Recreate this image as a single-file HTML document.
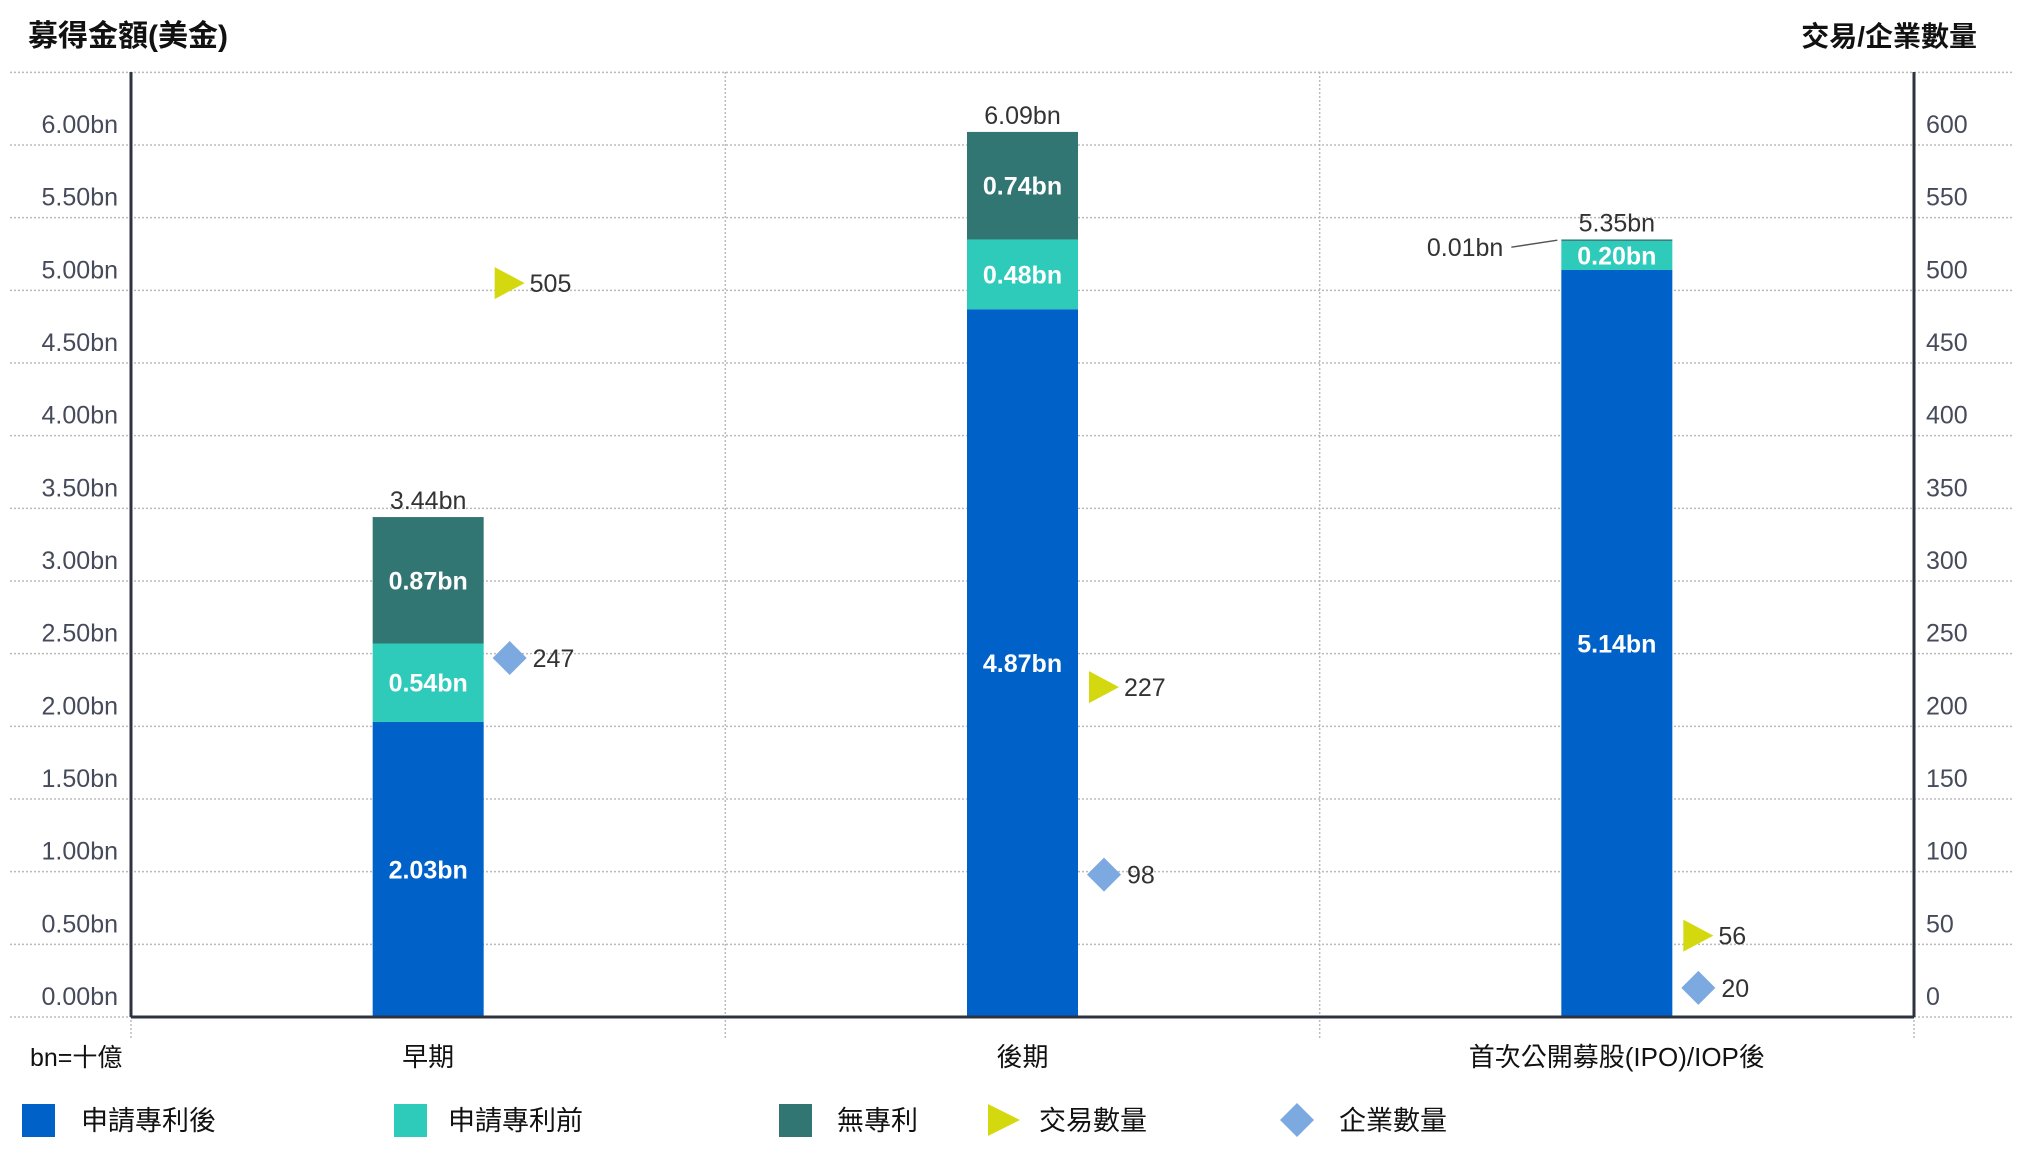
<!DOCTYPE html>
<html><head><meta charset="utf-8">
<style>
html,body{margin:0;padding:0;background:#fff;}
svg{display:block;font-family:"Liberation Sans","Noto Sans CJK TC",sans-serif;}
</style></head>
<body>
<svg id="chart" width="2036" height="1153" viewBox="0 0 2036 1153" xmlns="http://www.w3.org/2000/svg">
<text x="28" y="46" font-size="30" font-weight="bold" fill="#111">募得金額(美金)</text>
<text x="1977" y="46" font-size="28" font-weight="bold" fill="#111" text-anchor="end">交易/企業數量</text>
<g id="grid"></g>
<g id="bars"></g>
<g id="markers"></g>
<g id="axes"></g>
<text x="30" y="1066" font-size="25" fill="#111">bn=十億</text>
<g id="legend"></g>
</svg>
<script>
const categories = ["早期", "後期", "首次公開募股(IPO)/IOP後"];
const afterPatent = [2.03, 4.87, 5.14];
const beforePatent = [0.54, 0.48, 0.20];
const noPatent = [0.87, 0.74, 0.01];
const totals = ["3.44bn", "6.09bn", "5.35bn"];
const deals = [505, 227, 56];
const companies = [247, 98, 20];
const leftTicks = [0, 0.5, 1, 1.5, 2, 2.5, 3, 3.5, 4, 4.5, 5, 5.5, 6, 6.5];
const rightTicks = [0, 50, 100, 150, 200, 250, 300, 350, 400, 450, 500, 550, 600];

const NS = "http://www.w3.org/2000/svg";
const X0 = 131, X1 = 1914, Y0 = 1017;
const yL = v => Y0 - v * (872 / 6);
const yR = n => Y0 - n * (872 / 600);
const band = (X1 - X0) / categories.length;
const xC = i => X0 + band * (i + 0.5);
const BW = 111;
const colors = ["#0061C9", "#2ECBBB", "#317672"];
function mk(tag, attrs, parent) {
  const e = document.createElementNS(NS, tag);
  for (const k in attrs) e.setAttribute(k, attrs[k]);
  parent.appendChild(e);
  return e;
}
const grid = document.getElementById("grid");
const axes = document.getElementById("axes");
leftTicks.forEach((t) => {
  const l = mk("line", {x1: 10, x2: 2012, y1: yL(t), y2: yL(t), stroke: "#bbb", "stroke-width": 1.5, "stroke-dasharray": "2 2"}, grid);
  
  
  if (t <= 6) {
    const tx = mk("text", {x: 118, y: yL(t) - 12, "font-size": 25, fill: "#454b5a", "text-anchor": "end"}, axes);
    tx.textContent = t.toFixed(2) + "bn";
    
    
  }
});
rightTicks.forEach((t) => {
  const tx = mk("text", {x: 1926, y: yR(t) - 12, "font-size": 25, fill: "#454b5a"}, axes);
  tx.textContent = t;
  
  
});
for (let i = 0; i <= categories.length; i++) {
  const x = X0 + band * i;
  const l = mk("line", {x1: x, x2: x, y1: 72, y2: 1040, stroke: "#bbb", "stroke-width": 1.5, "stroke-dasharray": "2 2"}, grid);
  
  
}
let e;
e = mk("line", {x1: X0, x2: X0, y1: 72, y2: Y0, stroke: "#2d3440", "stroke-width": 3}, axes);
 
e = mk("line", {x1: X1, x2: X1, y1: 72, y2: Y0, stroke: "#2d3440", "stroke-width": 3}, axes);
 
e = mk("line", {x1: X0, x2: X1, y1: Y0, y2: Y0, stroke: "#2d3440", "stroke-width": 3}, axes);
 

const bars = document.getElementById("bars");
const markers = document.getElementById("markers");
const series = [afterPatent, beforePatent, noPatent];
categories.forEach((c, i) => {
  const cx = xC(i);
  let base = 0;
  series.forEach((s, k) => {
    const v = s[i];
    const r = mk("rect", {x: cx - BW / 2, y: yL(base + v), width: BW, height: yL(base) - yL(base + v), fill: colors[k]}, bars);
    
    
    if (v >= 0.1) {
      const t = mk("text", {x: cx, y: (yL(base) + yL(base + v)) / 2 + 9, "font-size": 25, "font-weight": "bold", fill: "#fff", "text-anchor": "middle"}, bars);
      t.textContent = v.toFixed(2) + "bn";
      
      
    } else {
      const yy = (yL(base) + yL(base + v)) / 2;
      const ln = mk("line", {x1: cx - BW / 2 - 4, y1: yy, x2: cx - BW / 2 - 50, y2: yy + 7, stroke: "#555", "stroke-width": 1.5}, bars);
      
      
      const t = mk("text", {x: cx - BW / 2 - 58, y: yy + 16, "font-size": 25, fill: "#333", "text-anchor": "end"}, bars);
      t.textContent = v.toFixed(2) + "bn";
      
      
    }
    base += v;
  });
  const tt = mk("text", {x: cx, y: yL(base) - 8, "font-size": 25, fill: "#333", "text-anchor": "middle"}, bars);
  tt.textContent = totals[i];
  
  
  const cl = mk("text", {x: cx, y: 1066, "font-size": 26, fill: "#111", "text-anchor": "middle"}, axes);
  cl.textContent = c;
  
  

  const mx = cx + BW / 2 + 26;
  const ty = yR(deals[i]);
  const tri = mk("polygon", {points: `${mx-15},${ty-16} ${mx+15},${ty} ${mx-15},${ty+16}`, fill: "#D4D90F"}, markers);
  
  
  const tl = mk("text", {x: mx + 20, y: ty + 9, "font-size": 25, fill: "#333"}, markers);
  tl.textContent = deals[i];
  
  
  const dy = yR(companies[i]);
  const dm = mk("polygon", {points: `${mx},${dy-17} ${mx+17},${dy} ${mx},${dy+17} ${mx-17},${dy}`, fill: "#7BA9E0"}, markers);
  
  
  const dl = mk("text", {x: mx + 23, y: dy + 9, "font-size": 25, fill: "#333"}, markers);
  dl.textContent = companies[i];
  
  
});

const legend = document.getElementById("legend");
const legItems = [
  {x: 22, tx: 81, label: "申請專利後", shape: "rect", color: colors[0]},
  {x: 394, tx: 448, label: "申請專利前", shape: "rect", color: colors[1]},
  {x: 779, tx: 837, label: "無專利", shape: "rect", color: colors[2]},
  {x: 988, tx: 1039, label: "交易數量", shape: "tri", color: "#D4D90F"},
  {x: 1281, tx: 1339, label: "企業數量", shape: "dia", color: "#7BA9E0"}
];
const LY = 1120;
legItems.forEach(it => {
  let s;
  if (it.shape === "rect") s = mk("rect", {x: it.x, y: LY - 16, width: 33, height: 33, fill: it.color}, legend);
  else if (it.shape === "tri") s = mk("polygon", {points: `${it.x},${LY-16} ${it.x+32},${LY} ${it.x},${LY+16}`, fill: it.color}, legend);
  else s = mk("polygon", {points: `${it.x+16},${LY-17} ${it.x+33},${LY} ${it.x+16},${LY+17} ${it.x-1},${LY}`, fill: it.color}, legend);
  
  
  const t = mk("text", {x: it.tx, y: LY + 10, "font-size": 27, fill: "#111"}, legend);
  t.textContent = it.label;
  
  
});
</script>
</body></html>
